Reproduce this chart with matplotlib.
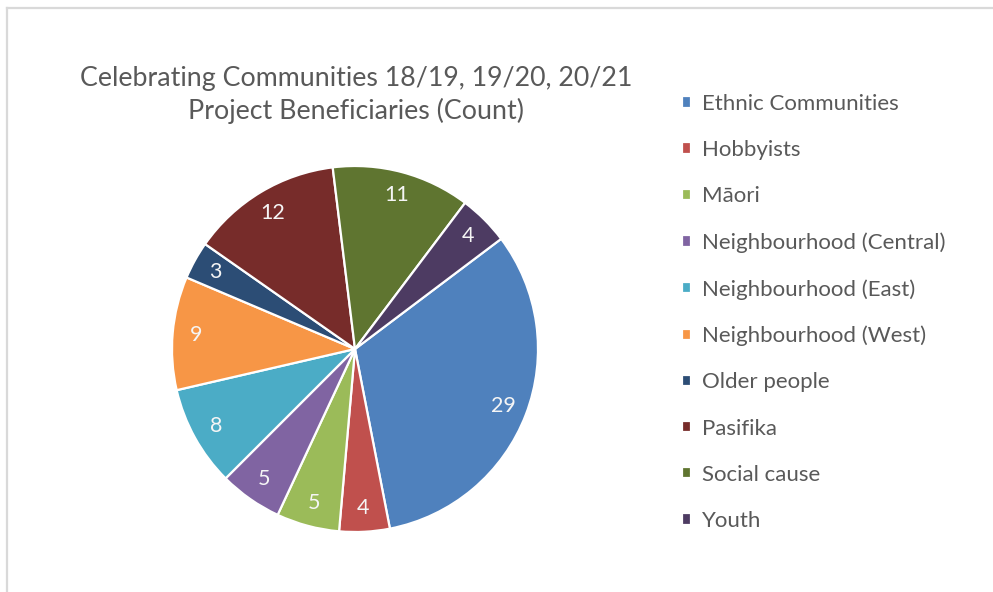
import matplotlib.pyplot as plt
from matplotlib.lines import Line2D

# chart data
groups = ["Ethnic Communities", "Hobbyists", "Māori", "Neighbourhood (Central)",
          "Neighbourhood (East)", "Neighbourhood (West)", "Older people",
          "Pasifika", "Social cause", "Youth"]
counts = [29, 4, 5, 5, 8, 9, 3, 12, 11, 4]
colours = ["#4F81BD", "#C0504D", "#9BBB59", "#8064A2", "#4BACC6",
           "#F79646", "#2C4D75", "#772C2A", "#5F7530", "#4D3B62"]

plt.rcParams['font.family'] = ['Lato', 'DejaVu Sans']
grey = "#595959"

fig = plt.figure(figsize=(9.93, 5.92), dpi=100)

# pie axes, centred at about (355, 349) px with radius 183 px
W, H = 993, 592
cx, cy, r = 355, 349, 183
ax = fig.add_axes([(cx - r) / W, (H - cy - r) / H, 2 * r / W, 2 * r / H])

wedges, texts = ax.pie(counts, colors=colours, startangle=37, counterclock=False,
                       labels=[str(c) for c in counts], labeldistance=0.87,
                       wedgeprops=dict(edgecolor="white", linewidth=1.6))
for t in texts:
    t.set_color("#f5f5f5")
    t.set_fontsize(15.5)
    t.set_ha("center")
    t.set_va("center")
ax.set_xlim(-1, 1)
ax.set_ylim(-1, 1)

# title
fig.text(356 / W, 1 - 95 / H, "Celebrating Communities 18/19, 19/20, 20/21\nProject Beneficiaries (Count)",
         ha="center", va="center", fontsize=19.3, color=grey, linespacing=1.32)

# legend
leg = fig.legend(wedges, groups, loc="upper left", bbox_to_anchor=(662 / W, 1 - 74 / H),
                 frameon=False, fontsize=16, labelcolor=grey,
                 handlelength=0.42, handleheight=0.42, handletextpad=0.5,
                 labelspacing=1.175)

# light grey chart border (only top and left are visible in the crop)
x0 = 6.5 / W
y0 = 1 - 8 / H
fig.add_artist(Line2D([x0, x0], [0, y0], transform=fig.transFigure, color="#d9d9d9", lw=1.6))
fig.add_artist(Line2D([x0, 1], [y0, y0], transform=fig.transFigure, color="#d9d9d9", lw=1.6))

fig.savefig("out.png", dpi=100, facecolor="white")
